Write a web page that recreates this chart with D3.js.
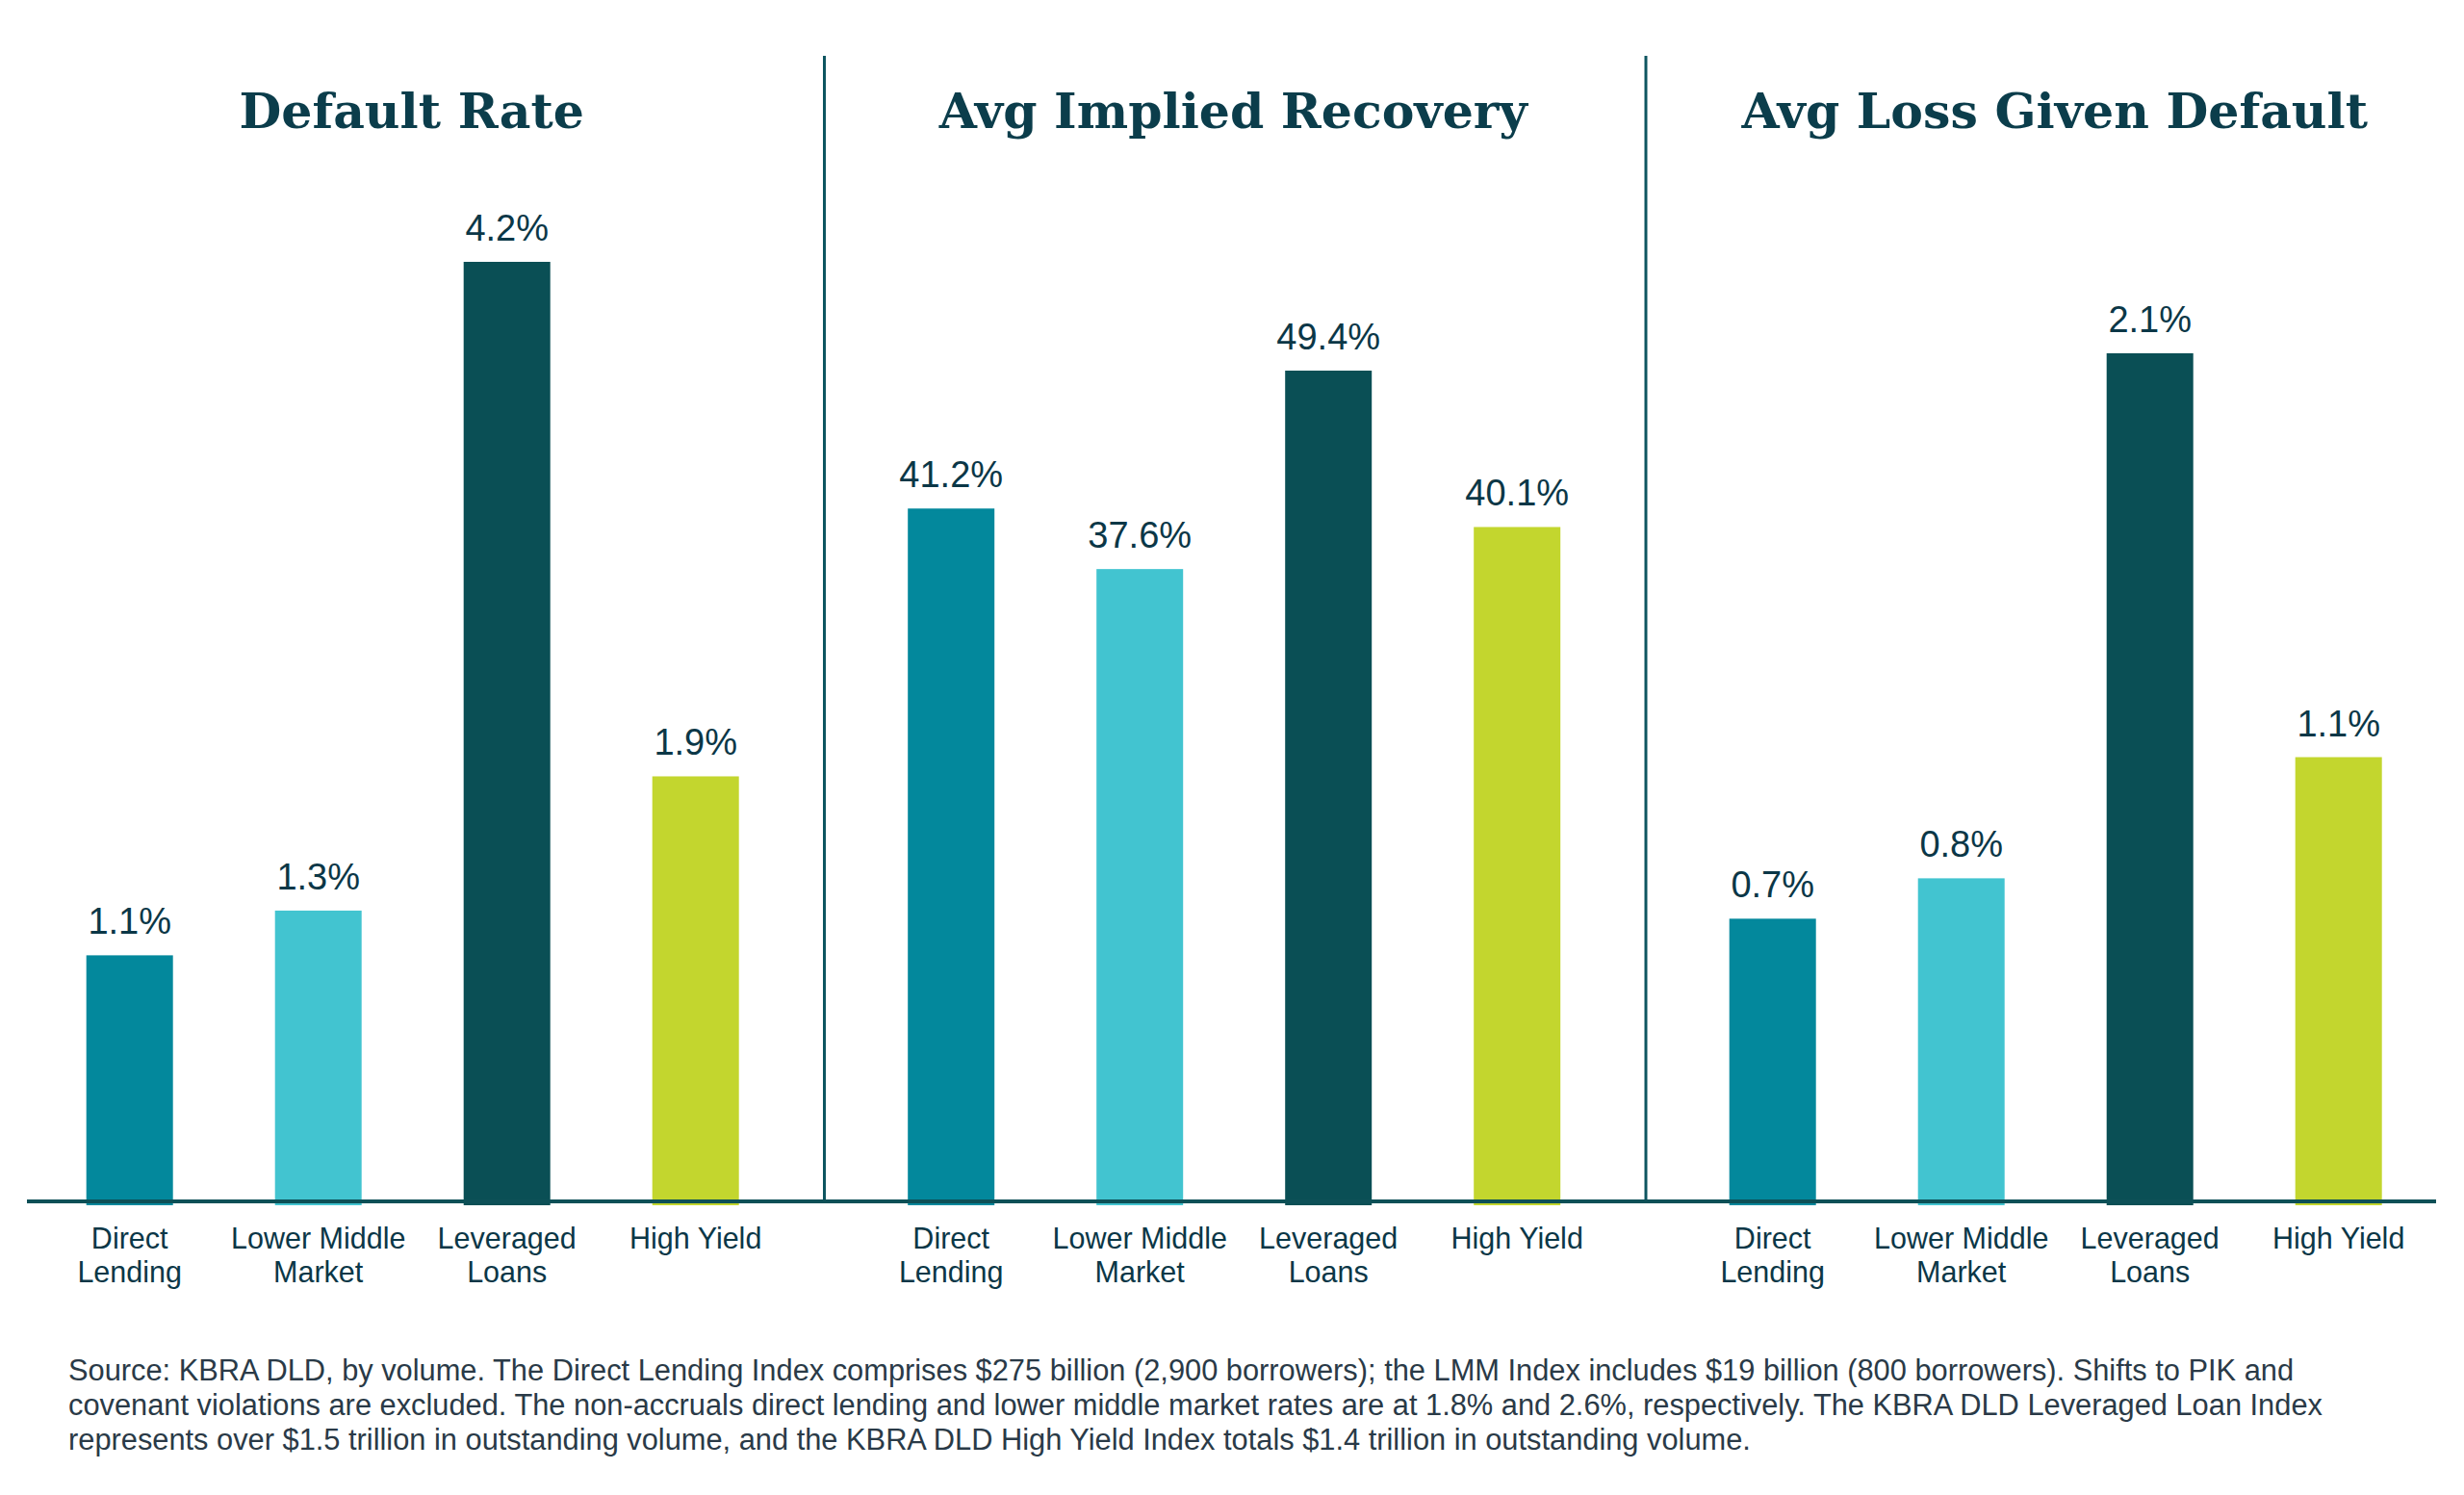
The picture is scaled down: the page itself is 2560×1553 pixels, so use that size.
<!DOCTYPE html>
<html>
<head>
<meta charset="utf-8">
<script src="https://cdn.jsdelivr.net/npm/d3@7"></script>
<style>
  html, body { margin: 0; padding: 0; background: #ffffff; }
  svg { display: block; }
</style>
</head>
<body>
<svg id="chart"></svg>
<script>
// chart data
const categories = ["Direct Lending", "Lower Middle Market", "Leveraged Loans", "High Yield"];
const categoryLines = [["Direct", "Lending"], ["Lower Middle", "Market"], ["Leveraged", "Loans"], ["High Yield"]];
const panelTitles = ["Default Rate", "Avg Implied Recovery", "Avg Loss Given Default"];
const defaultRate = [1.1, 1.3, 4.2, 1.9];
const impliedRecovery = [41.2, 37.6, 49.4, 40.1];
const lossGivenDefault = [0.7, 0.8, 2.1, 1.1];
const footnoteLines = [
  "Source: KBRA DLD, by volume. The Direct Lending Index comprises $275 billion (2,900 borrowers); the LMM Index includes $19 billion (800 borrowers). Shifts to PIK and",
  "covenant violations are excluded. The non-accruals direct lending and lower middle market rates are at 1.8% and 2.6%, respectively. The KBRA DLD Leveraged Loan Index",
  "represents over $1.5 trillion in outstanding volume, and the KBRA DLD High Yield Index totals $1.4 trillion in outstanding volume."
];

const width = 2560, height = 1553;
const panelW = 853.5;
const baseY = 1248;
const barColors = ["#03889c", "#42c4d0", "#0a4f55", "#c3d62e"];
const textColor = "#0b3747";

// top of the tallest bar differs per panel
const panelTops = [272, 385, 367];
const panelValues = [defaultRate, impliedRecovery, lossGivenDefault];

const svg = d3.select("#chart").attr("width", width).attr("height", height);

const color = d3.scaleOrdinal().domain(categories).range(barColors);

const x = d3.scaleBand()
  .domain(categories)
  .range([36.7, 820.7])
  .paddingInner(106 / 196)
  .paddingOuter(106 / 196 / 2);

panelValues.forEach((vals, p) => {
  let x0 = p * panelW;
  let g = svg.append("g").attr("transform", `translate(${x0},0)`);

  let y = d3.scaleLinear().domain([0, d3.max(vals)]).range([baseY, panelTops[p]]);

  let data = categories.map((c, i) => ({cat: c, value: vals[i], lines: categoryLines[i]}));

  // title
  g.append("text")
    .attr("x", panelW / 2 + 1)
    .attr("y", 133)
    .attr("text-anchor", "middle")
    .attr("font-family", "'DejaVu Serif', serif")
    .attr("font-weight", "bold")
    .attr("font-size", 50.5)
    .attr("fill", "#0b3d4b")
    .text(panelTitles[p]);

  // bars
  g.selectAll("rect.bar").data(data).join("rect")
    .attr("class", "bar")
    .attr("x", d => x(d.cat))
    .attr("y", d => y(d.value))
    .attr("width", x.bandwidth())
    .attr("height", d => baseY + 4 - y(d.value))
    .attr("fill", d => color(d.cat));

  // value labels
  g.selectAll("text.val").data(data).join("text")
    .attr("class", "val")
    .attr("x", d => x(d.cat) + x.bandwidth() / 2)
    .attr("y", d => y(d.value) - 22)
    .attr("text-anchor", "middle")
    .attr("font-family", "'Liberation Sans', Arial, sans-serif")
    .attr("font-size", 38)
    .attr("fill", textColor)
    .text(d => d.value.toFixed(1) + "%");

  // category labels
  let cat = g.selectAll("text.cat").data(data).join("text")
    .attr("class", "cat")
    .attr("text-anchor", "middle")
    .attr("font-family", "'Liberation Sans', Arial, sans-serif")
    .attr("font-size", 30.5)
    .attr("fill", textColor);
  cat.selectAll("tspan").data(d => d.lines.map(l => ({l: l, cx: x(d.cat) + x.bandwidth() / 2}))).join("tspan")
    .attr("x", d => d.cx)
    .attr("y", (d, i) => 1297 + i * 35)
    .text(d => d.l);
});

// dividers between panels
svg.selectAll("line.divider").data([1, 2]).join("line")
  .attr("class", "divider")
  .attr("x1", d => d * panelW + 3)
  .attr("x2", d => d * panelW + 3)
  .attr("y1", 58)
  .attr("y2", baseY)
  .attr("stroke", "#0e5560")
  .attr("stroke-width", 3);

// baseline
svg.append("line")
  .attr("x1", 28).attr("x2", 2531)
  .attr("y1", baseY).attr("y2", baseY)
  .attr("stroke", "#0d5057")
  .attr("stroke-width", 4);

// footnote
svg.selectAll("text.note").data(footnoteLines).join("text")
  .attr("class", "note")
  .attr("x", 71)
  .attr("y", (d, i) => 1434 + i * 36)
  .attr("font-family", "'Liberation Sans', Arial, sans-serif")
  .attr("font-size", 30.8)
  .attr("fill", "#2a3a47")
  .text(d => d);
</script>
</body>
</html>
